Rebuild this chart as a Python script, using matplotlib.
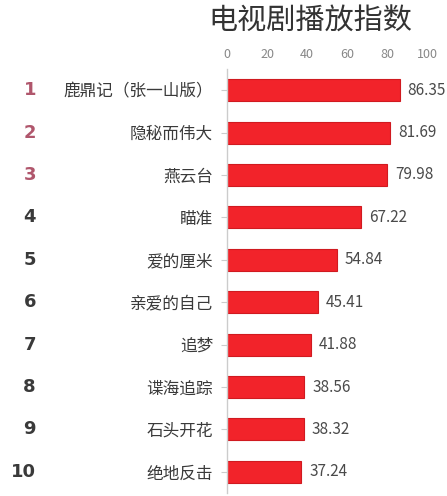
import matplotlib.pyplot as plt
import numpy as np

plt.rcParams['font.family'] = ['Noto Sans CJK SC', 'DejaVu Sans']

names = ['鹿鼎记（张一山版）', '隐秘而伟大', '燕云台', '瞄准', '爱的厘米',
         '亲爱的自己', '追梦', '谍海追踪', '石头开花', '绝地反击']
values = [86.35, 81.69, 79.98, 67.22, 54.84, 45.41, 41.88, 38.56, 38.32, 37.24]
ranks = ['1', '2', '3', '4', '5', '6', '7', '8', '9', '10']
xticks = [0, 20, 40, 60, 80, 100]

W, H = 447, 496
fig = plt.figure(figsize=(W / 100, H / 100), dpi=100)
fig.patch.set_facecolor('white')

# axes placed in pixel terms: 0 -> x=227, 100 -> x=427
ax = fig.add_axes([227 / W, 3 / H, 200 / W, (H - 69 - 3) / H])

y = np.arange(len(names))
ax.barh(y, values, height=0.52, color='#f2232a', edgecolor='#d01a20', linewidth=0.8)
ax.set_ylim(len(names) - 0.5, -0.5)
ax.set_xlim(0, 100)

for yi, v in zip(y, values):
    ax.text(v + 4, yi, f'{v:.2f}', va='center', ha='left', fontsize=11,
            color='#4a4a4a', clip_on=False)

ax.xaxis.tick_top()
ax.set_xticks(xticks)
ax.set_xticklabels([str(t) for t in xticks], fontsize=9, color='#888888')
ax.tick_params(axis='x', length=0, pad=6)
ax.set_yticks(y)
ax.set_yticklabels(names, fontsize=12, color='#3a3a3a')
ax.tick_params(axis='y', length=4, color='#cccccc', pad=6)

for s in ['top', 'right', 'bottom']:
    ax.spines[s].set_visible(False)
ax.spines['left'].set_color('#cccccc')
ax.spines['left'].set_linewidth(1)

# rank numbers
for yi, r in zip(y, ranks):
    py = ax.transData.transform((0, yi))[1]
    c = '#b0566c' if int(r) <= 3 else '#3a3a3a'
    fig.text(36 / W, py / H, r, ha='right', va='center', fontsize=13,
             fontweight='bold', color=c, family=['DejaVu Sans'])

fig.text(310 / W, 1 - 22 / H, '电视剧播放指数', ha='center', va='center',
         fontsize=21, color='#333333')

fig.savefig('out.png', dpi=100)
